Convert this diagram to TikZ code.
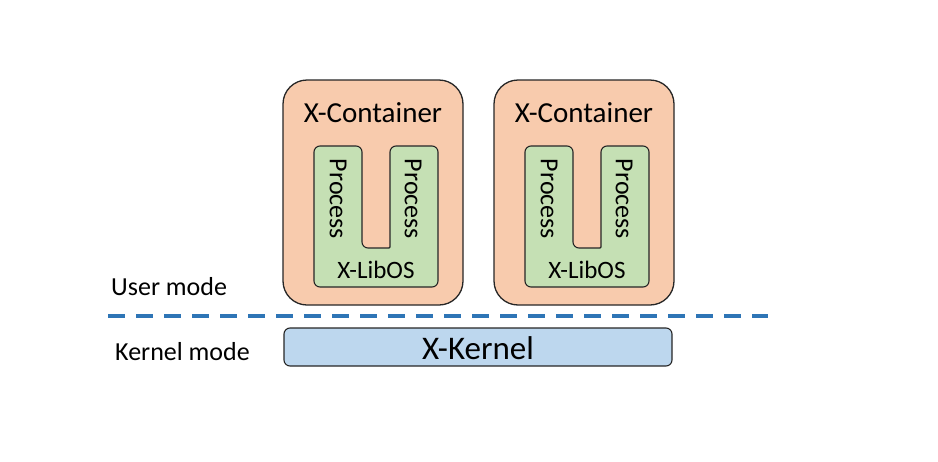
\documentclass[tikz,border=0pt]{standalone}
\usepackage{fontspec}
\setmainfont{Carlito}
\definecolor{contfill}{HTML}{F8CBAD}
\definecolor{procfill}{HTML}{C5E0B4}
\definecolor{kernfill}{HTML}{BDD7EE}
\definecolor{dashblue}{HTML}{2E75B6}
\definecolor{edge}{HTML}{262626}
\tikzset{
  container/.style={draw=edge, line width=1.3pt, fill=contfill, rounded corners=24pt},
  greenshape/.style={draw=edge, line width=1.1pt, fill=procfill, rounded corners=6pt},
  kernelbox/.style={draw=edge, line width=1.1pt, fill=kernfill, rounded corners=6pt},
  label/.style={inner sep=0pt, text=black},
}
\begin{document}
\begin{tikzpicture}[x=1pt,y=-1pt]
\useasboundingbox (0,0) rectangle (938,461);
\foreach \i/\dx in {1/0,2/211}{
  \begin{scope}[xshift=\dx pt]
    \draw[container] (283,80) rectangle (463,305);
    \node[label, font=\fontsize{29}{34}\selectfont] (title\i) at (373,113) {X-Container};
    \draw[greenshape] (314,287) -- (314,146) -- (362,146) -- (362,248)
        [rounded corners=1pt] -- (390,248) [rounded corners=6pt] -- (390,146) -- (438,146) -- (438,287) -- cycle;
    \node[label, rotate=-90, font=\fontsize{26}{30}\selectfont] (procA\i) at (338,199) {Process};
    \node[label, rotate=-90, font=\fontsize{26}{30}\selectfont] (procB\i) at (413,199) {Process};
    \node[label, font=\fontsize{25}{30}\selectfont] (libos\i) at (376,270) {X-LibOS};
  \end{scope}
}
\coordinate (dashL) at (108,316);
\coordinate (dashR) at (768,316);
\draw[dashblue, line width=3.5pt, dash pattern=on 17pt off 11pt] (dashL) -- (dashR);
\node[label, font=\fontsize{26}{30}\selectfont, anchor=west] (user) at (111,287) {User mode};
\node[label, font=\fontsize{26}{30}\selectfont, anchor=west] (kmode) at (115,352) {Kernel mode};
\draw[kernelbox] (284,328) rectangle (672,366);
\node[label, font=\fontsize{33}{38}\selectfont] (kernel) at (478,348) {X-Kernel};
\end{tikzpicture}
\end{document}
